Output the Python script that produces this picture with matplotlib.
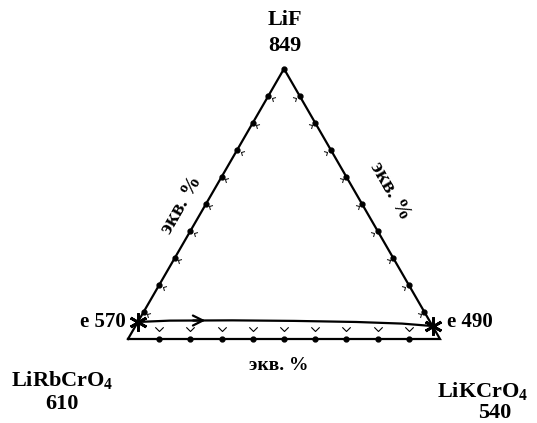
import numpy as np
import matplotlib
matplotlib.use('Agg')
import matplotlib.pyplot as plt

plt.rcParams['font.family'] = ['Liberation Serif', 'DejaVu Serif']
plt.rcParams['font.weight'] = 'bold'
plt.rcParams['mathtext.fontset'] = 'custom'
plt.rcParams['mathtext.rm'] = 'Liberation Serif:bold'
plt.rcParams['mathtext.default'] = 'rm'

# components (corners) and melting points
components = ['LiRbCrO$_4$', 'LiKCrO$_4$', 'LiF']
melt_temps = ['610', '540', '849']

# tick compositions along each side, eq. %
ticks = np.arange(10, 100, 10)

# eutectics: (LiF eq.%, LiKCrO4 eq.%)
eut_labels = ['e 570', 'e 490']
eut_lif = [6.3, 4.8]
eut_lik = [0.0, 95.2]

# monovariant curve from e 570 to e 490: (LiF eq.%, LiKCrO4 eq.%)
curve_lif = [6.3, 6.8, 6.9, 6.7, 6.3, 5.7, 4.8]
curve_lik = [0.0, 10.0, 30.0, 50.0, 70.0, 85.0, 95.2]

H = np.sqrt(3) / 2


def tern(lif, lik):
    a = np.asarray(lif) / 100.0
    b = np.asarray(lik) / 100.0
    return b + a / 2, a * H


def chevron(angle_deg):
    v = np.array([[-1.0, 1.0], [0.0, 0.0], [1.0, 1.0]])
    t = np.deg2rad(angle_deg)
    r = np.array([[np.cos(t), -np.sin(t)], [np.sin(t), np.cos(t)]])
    return v @ r.T


fig = plt.figure(figsize=(5.37, 4.23), dpi=100)
ax = fig.add_axes([0, 0, 1, 1])
ax.set_xlim(-128 / 312, (537 - 128) / 312)
ax.set_ylim((339 - 423) / 312, 339 / 312)
ax.axis('off')

# triangle
tx = [0, 1, 0.5, 0]
ty = [0, 0, H, 0]
ax.plot(tx, ty, color='black', lw=1.6, solid_joinstyle='miter')
ax.plot([0.5], [H], 'o', color='black', ms=3.5)

off = 1 / 312
# bottom side: LiRbCrO4 -> LiKCrO4
bx, by = tern(np.zeros_like(ticks), ticks)
ax.plot(bx, by, 'o', color='black', ms=3.5)
ax.plot(bx, by + off * 8, linestyle='none', marker=chevron(0), ms=6,
        mfc='none', mec='black', mew=0.8)
# left side: LiRbCrO4 -> LiF
lx, ly = tern(ticks, np.zeros_like(ticks))
ax.plot(lx, ly, 'o', color='black', ms=3.5)
n_l = np.array([np.cos(np.deg2rad(-30)), np.sin(np.deg2rad(-30))])
ax.plot(lx + off * 4 * n_l[0], ly + off * 4 * n_l[1], linestyle='none',
        marker=chevron(-120), ms=5, mfc='none', mec='black', mew=0.7)
# right side: LiKCrO4 -> LiF
rx, ry = tern(ticks, 100 - ticks)
ax.plot(rx, ry, 'o', color='black', ms=3.5)
n_r = np.array([np.cos(np.deg2rad(210)), np.sin(np.deg2rad(210))])
ax.plot(rx + off * 4 * n_r[0], ry + off * 4 * n_r[1], linestyle='none',
        marker=chevron(120), ms=5, mfc='none', mec='black', mew=0.7)

# monovariant curve
cx, cy = tern(curve_lif, curve_lik)
ax.plot(cx, cy, color='black', lw=1.6)
ax.annotate('', xy=(0.257, np.interp(0.257, cx, cy)),
            xytext=(0.2, np.interp(0.2, cx, cy)),
            arrowprops=dict(arrowstyle='->', lw=1.6, color='black',
                            mutation_scale=18))

# eutectic points
ex, ey = tern(eut_lif, eut_lik)
ax.plot(ex, ey, linestyle='none', marker=(6, 2, 0), ms=13, mec='black', mew=2)

# labels
def px(x, y):
    return (x - 128) / 312, (339 - y) / 312

fs = 16
ax.text(*px(285, 20), components[2], ha='center', va='center', fontsize=fs)
ax.text(*px(285, 46), melt_temps[2], ha='center', va='center', fontsize=fs)
ax.text(*px(62, 380), components[0], ha='center', va='center', fontsize=fs)
ax.text(*px(62, 404), melt_temps[0], ha='center', va='center', fontsize=fs)
ax.text(*px(483, 391), components[1], ha='center', va='center', fontsize=fs)
ax.text(*px(495, 413), melt_temps[1], ha='center', va='center', fontsize=fs)

ax.text(*px(126, 322), eut_labels[0], ha='right', va='center', fontsize=15)
ax.text(*px(447, 322), eut_labels[1], ha='left', va='center', fontsize=15)

ax.text(*px(279, 365), 'экв. %', ha='center', va='center', fontsize=14)
ax.text(*px(182, 205), 'экв. %', ha='center', va='center', fontsize=15,
        rotation=60, rotation_mode='anchor')
ax.text(*px(390, 191), 'экв. %', ha='center', va='center', fontsize=15,
        rotation=-60, rotation_mode='anchor')

fig.savefig('out.png', dpi=100)
